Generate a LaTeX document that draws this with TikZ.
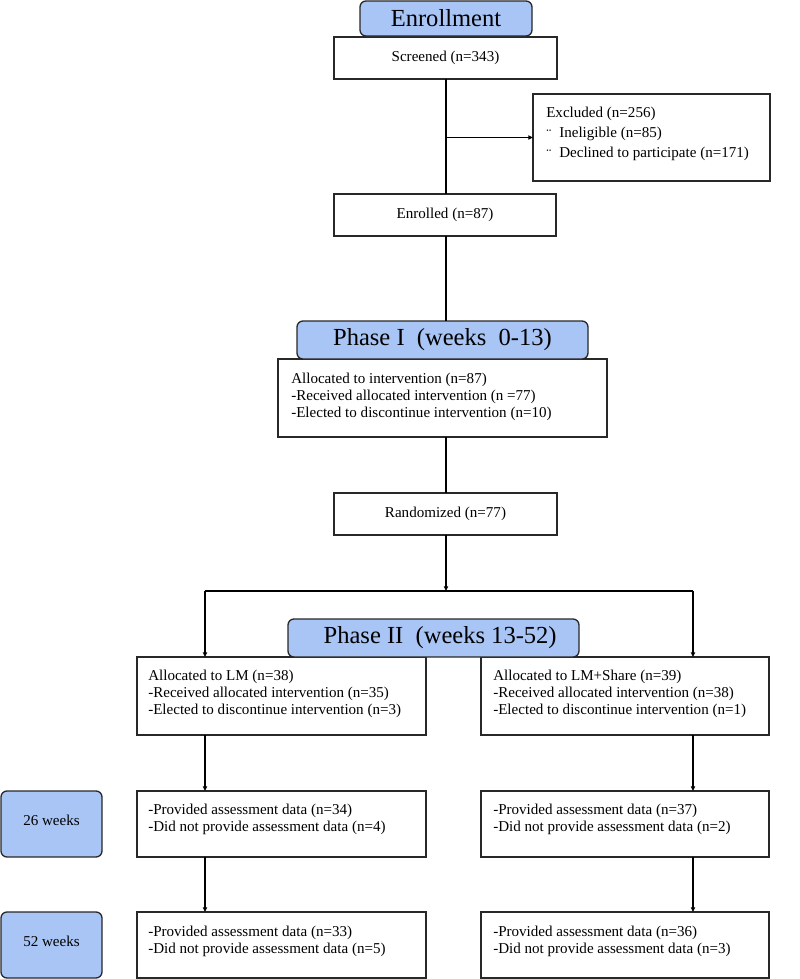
\documentclass[tikz,border=0pt]{standalone}
\usepackage{fontspec}
\setmainfont{Liberation Serif}
\usetikzlibrary{arrows.meta,calc}
\definecolor{phaseblue}{RGB}{168,197,246}
\definecolor{edge}{RGB}{40,40,40}
\begin{document}
\begin{tikzpicture}[x=0.75pt,y=-0.75pt,
  box/.style 2 args={draw=edge,line width=1pt,fill=white,minimum width=#1*0.75pt,minimum height=#2*0.75pt,inner sep=0pt,outer sep=0pt,font=\fontsize{11.3pt}{12.75pt}\selectfont},
  phase/.style={fill=phaseblue,rounded corners=4.5pt},
  bigtext/.style={font=\fontsize{18.4pt}{20pt}\selectfont},
  txt/.style={inner sep=0pt,anchor=west,align=left,font=\fontsize{11.3pt}{12.75pt}\selectfont},
  conn/.style={draw=black,line width=0.8pt},
  arr/.style={conn,-{Triangle[length=3.5pt,width=3.2pt]}}]
\useasboundingbox (0,0) rectangle (800,979);

% boxes
\node[box={223}{42}] (screened) at (445.5,58) {Screened (n=343)};
\node[box={237}{87}] (excluded) at (651.5,137.5) {};
\node[box={222}{42}] (enrolled) at (445,215) {Enrolled (n=87)};
\node[box={329}{78}] (alloc) at (442.5,398) {};
\node[box={223}{42}] (random) at (445.5,514) {Randomized (n=77)};
\node[box={289}{78}] (lm) at (281.5,696) {};
\node[box={288}{78}] (lms) at (625,696) {};
\node[box={289}{66}] (lm26) at (281.5,824) {};
\node[box={288}{66}] (lms26) at (625,824) {};
\node[box={289}{66}] (lm52) at (281.5,945) {};
\node[box={288}{66}] (lms52) at (625,945) {};

% phase labels
\node[box={172}{35},phase,bigtext] (enroll) at (446,18.5) {Enrollment};
\node[box={291}{38},phase,bigtext] (phase1) at (442.5,340) {Phase I\ \ (weeks\ \ 0-13)};
\node[box={291}{38},phase,bigtext] (phase2) at (433.5,638) {\hspace*{10pt}Phase II\ \ (weeks 13-52)};
\node[box={101}{66},phase] (w26) at (51.5,824) {\raisebox{3pt}[\height][\depth]{26 weeks}};
\node[box={101}{66},phase] (w52) at (51.5,945) {\raisebox{3pt}[\height][\depth]{52 weeks}};

% texts
\node[txt] (excludedT) at (546,134) {Excluded (n=256)\\[2pt]\makebox[9.75pt][l]{\raisebox{-1.5pt}{¨}}Ineligible (n=85)\\[2pt]\makebox[9.75pt][l]{\raisebox{-1.5pt}{¨}}Declined to participate (n=171)};
\node[txt] (allocT) at (291,396.5) {Allocated to intervention (n=87)\\-Received allocated intervention (n =77)\\-Elected to discontinue intervention (n=10)};
\node[txt] (lmT) at (148,694) {Allocated to LM (n=38)\\-Received allocated intervention (n=35)\\-Elected to discontinue intervention (n=3)};
\node[txt] (lmsT) at (493,694) {Allocated to LM+Share (n=39)\\-Received allocated intervention (n=38)\\-Elected to discontinue intervention (n=1)};
\node[txt] (lm26T) at (148,819.5) {-Provided assessment data (n=34)\\-Did not provide assessment data (n=4)};
\node[txt] (lms26T) at (493,819.5) {-Provided assessment data (n=37)\\-Did not provide assessment data (n=2)};
\node[txt] (lm52T) at (148,941) {-Provided assessment data (n=33)\\-Did not provide assessment data (n=5)};
\node[txt] (lms52T) at (493,941) {-Provided assessment data (n=36)\\-Did not provide assessment data (n=3)};

% connectors
\coordinate (main) at (446,0);
\coordinate (br) at (main |- excluded.west);
\coordinate (sl) at (205,591);
\coordinate (sr) at (693,591);
\coordinate (sc) at (main |- sl);
\draw[conn] (main |- screened.south) -- (main |- enrolled.north);
\draw[arr] (br) -- (excluded.west);
\draw[conn] (main |- enrolled.south) -- (main |- phase1.north);
\draw[conn] (main |- alloc.south) -- (main |- random.north);
\draw[arr] (main |- random.south) -- (sc);
\draw[conn] (sl) -- (sr);
\draw[arr] (sl) -- (sl |- lm.north);
\draw[arr] (sr) -- (sr |- lms.north);
\draw[arr] (sl |- lm.south) -- (sl |- lm26.north);
\draw[arr] (sr |- lms.south) -- (sr |- lms26.north);
\draw[arr] (sl |- lm26.south) -- (sl |- lm52.north);
\draw[arr] (sr |- lms26.south) -- (sr |- lms52.north);
\end{tikzpicture}
\end{document}
